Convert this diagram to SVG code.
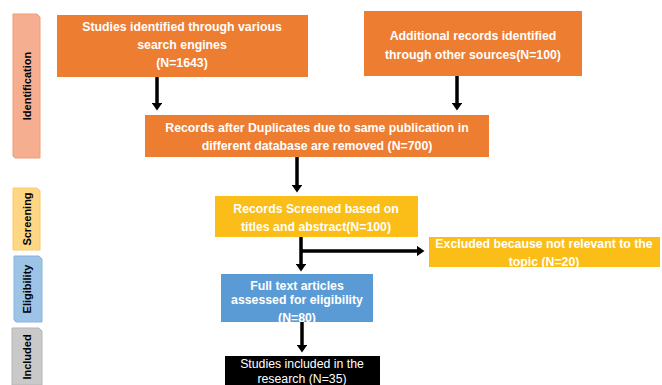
<svg xmlns="http://www.w3.org/2000/svg" width="662" height="385" viewBox="0 0 662 385">
<defs>
<marker id="ah" markerWidth="3" markerHeight="3" refX="1.2" refY="1.5" orient="auto" markerUnits="strokeWidth">
<path d="M0,0 L2.2,1.5 L0,3 Z" fill="#000"/>
</marker>
<style>
.t{font-family:"Liberation Sans",Arial,sans-serif;font-weight:bold;font-size:12.3px;fill:#fff;text-anchor:middle}
.s{font-family:"Liberation Sans",Arial,sans-serif;font-weight:bold;font-size:11px;fill:#000;text-anchor:middle}
.c{stroke:#000;stroke-width:3.5;fill:none}
</style>
</defs>
<rect width="662" height="385" fill="#fff"/>
<g id="stage-identification">
<path d="M13,14 L37,14 L40,17 L40,158 L15,158 L13,156 Z" fill="#F5AE8F" stroke="#F19C76" stroke-width="1"/>
<text class="s" transform="translate(31,86) rotate(-90)">Identification</text>
</g>
<g id="stage-screening">
<path d="M13,188 L37,188 L40,191 L40,250 L13,250 Z" fill="#FED684" stroke="#FCCB66" stroke-width="1"/>
<text class="s" transform="translate(31,219) rotate(-90)">Screening</text>
</g>
<g id="stage-eligibility">
<path d="M14,256 L39,256 L42,259 L42,322 L16,322 L14,320 Z" fill="#9DC3E6" stroke="#8AB4DC" stroke-width="1"/>
<text class="s" transform="translate(31,289) rotate(-90)">Eligibility</text>
</g>
<g id="stage-included">
<path d="M12,328 L39,328 L42,331 L42,385 L12,385 Z" fill="#C9C9C9" stroke="#B5B5B5" stroke-width="1"/>
<text class="s" transform="translate(31,357) rotate(-90)">Included</text>
</g>
<g id="connectors">
<line class="c" x1="157" y1="77" x2="157" y2="107" marker-end="url(#ah)"/>
<line class="c" x1="457" y1="76" x2="457" y2="107" marker-end="url(#ah)"/>
<line class="c" x1="297" y1="157" x2="297" y2="189" marker-end="url(#ah)"/>
<line class="c" x1="301" y1="237" x2="301" y2="268" marker-end="url(#ah)"/>
<line class="c" x1="301" y1="251" x2="421" y2="251" marker-end="url(#ah)"/>
<line class="c" x1="302" y1="322" x2="302" y2="349" marker-end="url(#ah)"/>
</g>
<g id="n1">
<rect x="57" y="15" width="251" height="62" fill="#ED7D31"/>
<text class="t" x="182" y="31">Studies identified through various</text>
<text class="t" x="182" y="49">search engines</text>
<text class="t" x="182" y="67">(N=1643)</text>
</g>
<g id="n2">
<rect x="364" y="11" width="218" height="65" fill="#ED7D31"/>
<text class="t" x="473" y="40">Additional records identified</text>
<text class="t" x="473" y="59">through other sources(N=100)</text>
</g>
<g id="n3">
<rect x="145" y="115" width="344" height="42" fill="#ED7D31"/>
<text class="t" x="317" y="132">Records after Duplicates due to same publication in</text>
<text class="t" x="317" y="150">different database are removed (N=700)</text>
</g>
<g id="n4">
<rect x="215" y="196" width="203" height="41" fill="#FBBD17"/>
<text class="t" x="316" y="213">Records Screened based on</text>
<text class="t" x="316" y="231">titles and abstract(N=100)</text>
</g>
<g id="n5">
<rect x="429" y="237" width="231" height="30" fill="#FBBD17"/>
<text class="t" x="544" y="248">Excluded because not relevant to the</text>
<text class="t" x="544" y="266">topic (N=20)</text>
</g>
<g id="n6">
<rect x="221" y="274" width="152" height="48" fill="#5B9BD5"/>
<text class="t" x="297" y="290">Full text articles</text>
<text class="t" x="297" y="304">assessed for eligibility</text>
<text class="t" x="297" y="322">(N=80)</text>
</g>
<g id="n7">
<rect x="225" y="356" width="155" height="29" fill="#000"/>
<text class="t" x="302" y="368" style="font-weight:normal">Studies included in the</text>
<text class="t" x="302" y="383" style="font-weight:normal">research (N=35)</text>
</g>
</svg>
